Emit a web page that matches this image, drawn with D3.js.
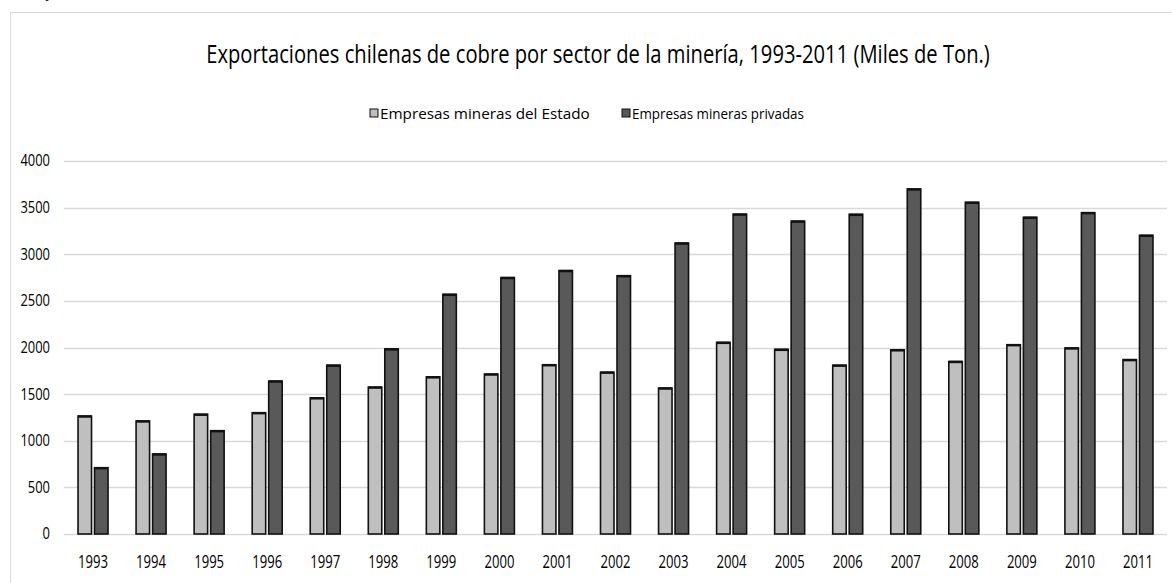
<!DOCTYPE html>
<html>
<head>
<meta charset="utf-8">
<script src="https://cdn.jsdelivr.net/npm/d3@7/dist/d3.min.js"></script>
<style>
  html, body { margin: 0; padding: 0; background: #fff; }
  svg { display: block; }
  text { font-family: "Open Sans", sans-serif; fill: #000; }
</style>
</head>
<body>
<svg id="chart" width="1172" height="583"></svg>
<script>
// Chilean copper exports by mining sector (thousand tonnes)
const years = ["1993","1994","1995","1996","1997","1998","1999","2000","2001","2002",
               "2003","2004","2005","2006","2007","2008","2009","2010","2011"];
const stateMines   = [1265,1212,1284,1301,1460,1575,1685,1715,1815,1735,
                      1565,2055,1980,1810,1975,1850,2030,1995,1870];
const privateMines = [711,858,1108,1640,1810,1985,2570,2750,2825,2770,
                      3120,3430,3355,3428,3700,3557,3396,3446,3203];
const seriesNames = ["Empresas mineras del Estado", "Empresas mineras privadas"];
const seriesColors = ["#bfbfbf", "#595959"];
const yTicks = [0,500,1000,1500,2000,2500,3000,3500,4000];
const titleText = "Exportaciones chilenas de cobre por sector de la minería, 1993-2011 (Miles de Ton.)";

const svg = d3.select("#chart");

// Condense a text horizontally so it spans the given width, keeping its anchor point.
function condense(sel, widthFor) {
  sel.each(function(d, i) {
    const t = d3.select(this);
    const w = this.getComputedTextLength();
    const target = typeof widthFor === "function" ? widthFor.call(this, d, i) : widthFor;
    const sx = w > 0 ? target / w : 1;
    const tx = +t.attr("x") || 0, ty = +t.attr("y") || 0;
    const prev = t.attr("transform") || "";
    t.attr("x", 0).attr("y", 0)
     .attr("transform", `${prev} translate(${tx},${ty}) scale(${sx},1)`);
  });
}

// chart frame (extends past the right and bottom edges)
svg.append("rect")
  .attr("x", 10.5).attr("y", 12.5)
  .attr("width", 1200).attr("height", 620)
  .attr("fill", "none").attr("stroke", "#d9d9d9").attr("stroke-width", 1);

// caption fragment above the frame
svg.append("text")
  .attr("x", 47).attr("y", -3)
  .style("font-family", "'Liberation Serif', serif")
  .style("font-style", "italic")
  .style("font-size", "16px")
  .text("y");

const plot = { left: 64, right: 1167, top: 161, bottom: 534 };

const x = d3.scaleBand().domain(years).range([plot.left, plot.right]).padding(0);
const y = d3.scaleLinear().domain([0, 4000]).range([plot.bottom, plot.top]);

// horizontal gridlines
svg.append("g")
  .selectAll("line")
  .data(yTicks)
  .join("line")
  .attr("x1", plot.left).attr("x2", plot.right)
  .attr("y1", d => Math.round(y(d)) + 0.5).attr("y2", d => Math.round(y(d)) + 0.5)
  .attr("stroke", "#d9d9d9").attr("stroke-width", 1.5);

// y axis labels
const yAxis = d3.axisLeft(y).tickValues(yTicks).tickFormat(d3.format("d")).tickSize(0).tickPadding(0);
const gy = svg.append("g").attr("transform", `translate(50,0)`).call(yAxis);
gy.select(".domain").remove();
gy.selectAll("text")
  .style("font-size", "15.5px")
  .style("font-weight", "500")
  .style("font-family", "'Open Sans', sans-serif")
  .attr("fill", "#111")
  .call(condense, function() { return this.textContent.length * 7.4; });

// x axis labels
const xAxis = d3.axisBottom(x).tickSize(0).tickPadding(0);
const gx = svg.append("g").attr("transform", `translate(0,555)`).call(xAxis);
gx.select(".domain").remove();
gx.selectAll("text")
  .style("font-size", "18px")
  .style("font-weight", "500")
  .style("font-family", "'Open Sans', sans-serif")
  .attr("fill", "#111")
  .call(condense, 30);

// bars
const barW = 13.5, gap = 3;
const data = years.map((yr, i) => ({ yr, vals: [stateMines[i], privateMines[i]] }));
const groups = svg.append("g").selectAll("g")
  .data(data).join("g")
  .attr("transform", d => `translate(${x(d.yr) + x.bandwidth() / 2},0)`);

groups.each(function(d) {
  const g = d3.select(this);
  d.vals.forEach((v, s) => {
    const bx = s === 0 ? -gap / 2 - barW : gap / 2;
    g.append("rect")
      .attr("x", bx).attr("y", y(v))
      .attr("width", barW).attr("height", y(0) - y(v))
      .attr("fill", seriesColors[s])
      .attr("stroke", "#111").attr("stroke-width", 1.6);
    g.append("line")
      .attr("x1", bx).attr("x2", bx + barW)
      .attr("y1", y(v) + 0.5).attr("y2", y(v) + 0.5)
      .attr("stroke", "#111").attr("stroke-width", 2.4);
  });
});

// title
svg.append("text")
  .attr("x", 598).attr("y", 63)
  .attr("text-anchor", "middle")
  .style("font-size", "25px")
  .style("font-weight", "500")
  .text(titleText)
  .call(condense, 784);

// legend
const legendItems = [
  { name: seriesNames[0], color: seriesColors[0], x: 370, len: 210 },
  { name: seriesNames[1], color: seriesColors[1], x: 622, len: 172 }
];
const lg = svg.append("g").selectAll("g").data(legendItems).join("g")
  .attr("transform", d => `translate(${d.x},114)`);
lg.append("rect")
  .attr("x", 0).attr("y", -5).attr("width", 8).attr("height", 8)
  .attr("fill", d => d.color).attr("stroke", "#111").attr("stroke-width", 1);
lg.append("text")
  .attr("x", 10).attr("y", 5)
  .style("font-size", "15px")
  .style("font-weight", "500")
  .attr("fill", "#111")
  .text(d => d.name)
  .call(condense, d => d.len);
</script>
</body>
</html>
